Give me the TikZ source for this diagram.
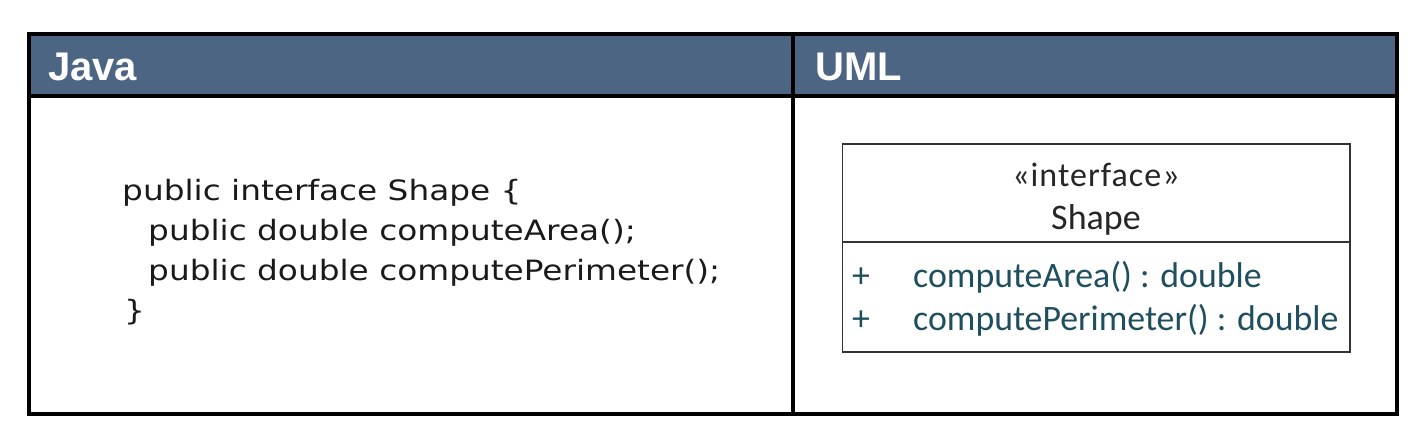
\documentclass[tikz,border=0pt]{standalone}
\usepackage{fontspec}
\setmainfont{DejaVu Sans}
\newfontfamily\headfont{Liberation Sans}
\newfontfamily\codefont[FakeStretch=1.17]{DejaVu Sans}
\newfontfamily\umlfont{Carlito}
\newfontfamily\stereofont[LetterSpace=3]{Carlito}
\usepackage{tikz}
\usetikzlibrary{positioning}
\definecolor{headblue}{HTML}{4C6582}
\definecolor{umlteal}{HTML}{1F4F5F}
\definecolor{codegray}{HTML}{1A1A1A}
\tikzset{head/.style={text=white,font=\headfont\bfseries\fontsize{40}{40}\selectfont,anchor=base west,inner sep=0pt}}
\tikzset{code/.style={text=codegray,font=\codefont\fontsize{28}{40}\selectfont,anchor=base west,inner sep=0pt}}
\tikzset{member/.style={text=umlteal,font=\umlfont\fontsize{35.8}{36}\selectfont,anchor=base west,inner sep=0pt}}

\begin{document}
\begin{tikzpicture}[x=1pt, y=-1pt]
        \useasboundingbox (0,0) rectangle (1422,440);
        % table frame
        \fill[headblue] (29,34) rectangle (1397,96);
        \draw[line width=4pt] (29,34) rectangle (1397,414);
        \draw[line width=4pt] (29,96) -- (1397,96);
        \draw[line width=4pt] (792.5,34) -- (792.5,414);
        \node[head] (java) at (48,80) {Java};
        \node[head] (uml) at (815,80) {UML};
        % java side
        \node[code] (line1) at (122,200) {public interface Shape \{};
        \node[code] (line2) at (148,240) {public double computeArea();};
        \node[code] (line3) at (148,280) {public double computePerimeter();};
        \node[code] (line4) at (124,320) {\}};
        % uml side
        \draw[line width=1.6pt, draw=black!80] (842.5,144) rectangle (1350,352);
        \draw[line width=1.6pt, draw=black!80] (842.5,242) -- (1350,242);
        \node[anchor=base, inner sep=0pt, text=black!85, font=\stereofont\fontsize{34}{34}\selectfont] (stereo) at (1096,186) {«interface»};
        \node[anchor=base, inner sep=0pt, text=black!85, font=\umlfont\fontsize{36}{36}\selectfont] (name) at (1096,229) {Shape};
        \node[member] (plus1) at (852,287) {+};
        \node[member] (area) at (913,287) {computeArea() : double};
        \node[member] (plus2) at (852,330) {+};
        \node[member] (perim) at (913,330) {computePerimeter() : double};
\end{tikzpicture}
\end{document}
